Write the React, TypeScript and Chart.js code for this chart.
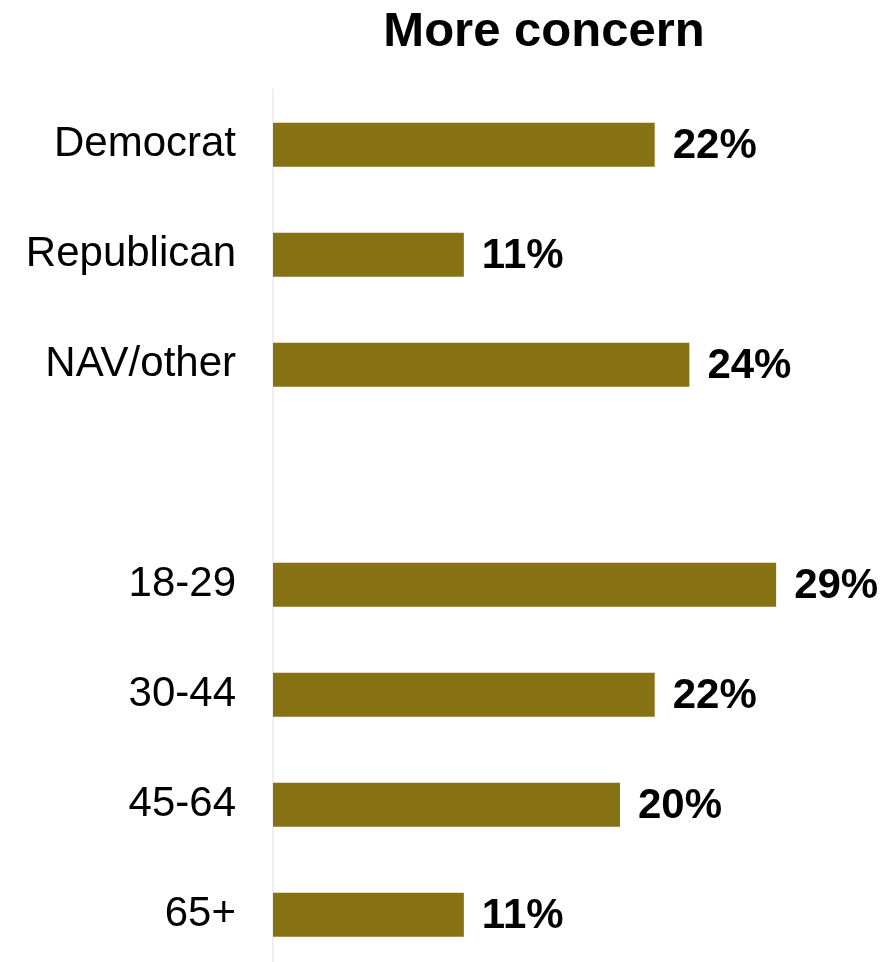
import React, { useEffect, useRef } from "react";
import { Chart, registerables } from "chart.js";

Chart.register(...registerables);

const categories = ["Democrat", "Republican", "NAV/other", "", "18-29", "30-44", "45-64", "65+"];
const values: (number | null)[] = [22, 11, 24, null, 29, 22, 20, 11];
const valueLabels = ["22%", "11%", "24%", "", "29%", "22%", "20%", "11%"];
const titleText = "More concern";

const FONT = "'Liberation Sans', Arial, Helvetica, sans-serif";

const labelPlugin = {
  id: "valueLabels",
  afterDatasetsDraw(chart: any) {
    const ctx = chart.ctx;
    const meta = chart.getDatasetMeta(0);
    ctx.save();
    ctx.font = `bold 42px ${FONT}`;
    ctx.fillStyle = "#000000";
    ctx.textAlign = "left";
    ctx.textBaseline = "middle";
    meta.data.forEach((bar: any, i: number) => {
      if (values[i] == null) return;
      ctx.fillText(valueLabels[i], bar.x + 18, bar.y + 2);
    });
    ctx.restore();
  },
};

export default function App() {
  const ref = useRef<HTMLCanvasElement | null>(null);
  useEffect(() => {
    if (!ref.current) return;
    const chart = new Chart(ref.current, {
      type: "bar",
      data: {
        labels: categories,
        datasets: [
          {
            data: values,
            backgroundColor: "#877213",
            borderWidth: 0,
            barPercentage: 0.4,
            categoryPercentage: 1,
          },
        ],
      },
      options: {
        indexAxis: "y",
        animation: false,
        responsive: false,
        maintainAspectRatio: false,
        layout: { padding: { top: 0, right: 80, bottom: 0, left: 0 } },
        plugins: {
          legend: { display: false },
          tooltip: { enabled: false },
          title: {
            display: true,
            text: titleText,
            fullSize: false,
            color: "#000000",
            font: { family: FONT, size: 49, weight: "bold", lineHeight: 1.2 },
            padding: { top: 3, bottom: 28 },
          },
        },
        scales: {
          x: {
            display: false,
            min: 0,
            max: 31.24,
          },
          y: {
            grid: { display: false, drawTicks: false },
            border: { display: true, color: "#efefef", width: 2 },
            ticks: {
              color: "#000000",
              padding: 37,
              font: { family: FONT, size: 42 },
            },
            afterFit(scale: any) {
              scale.width = 273;
            },
          },
        },
      },
      plugins: [labelPlugin],
    });
    return () => chart.destroy();
  }, []);
  return (
    <div style={{ position: "absolute", left: 0, top: 0, width: 895, height: 962, overflow: "hidden" }}>
      <canvas ref={ref} width={895} height={1032} style={{ display: "block" }} />
    </div>
  );
}
